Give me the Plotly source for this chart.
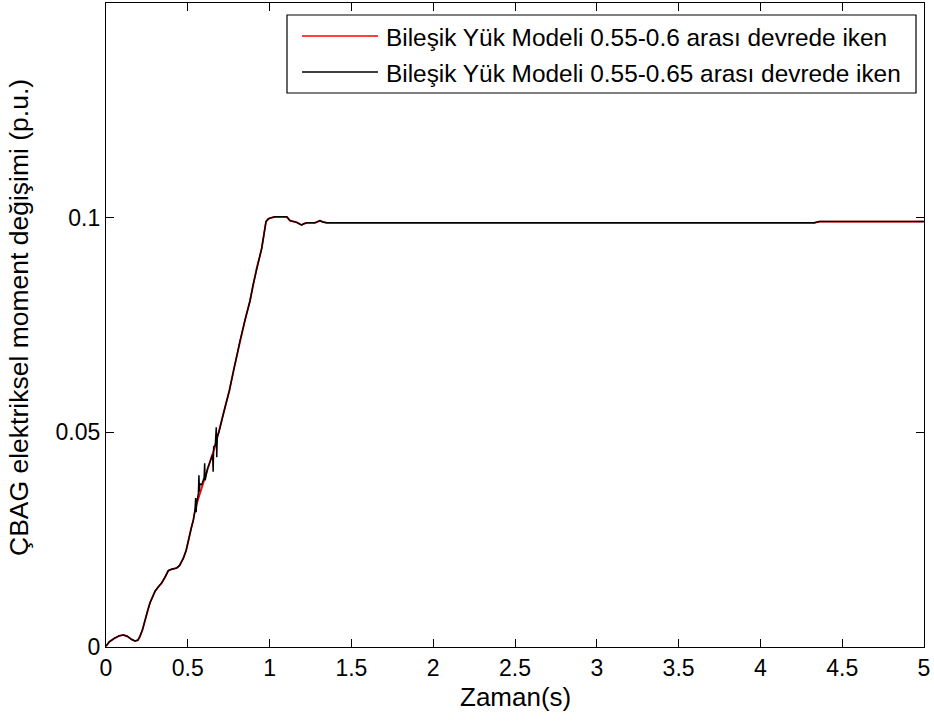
import plotly.graph_objects as go

# ---- data ----
t_red = [0, 0.02, 0.05, 0.08, 0.106, 0.13, 0.155, 0.177, 0.195, 0.208, 0.223, 0.238, 0.255, 0.269,
         0.285, 0.30, 0.32, 0.34, 0.36, 0.381, 0.40, 0.42, 0.432, 0.45, 0.473, 0.49, 0.503, 0.52,
         0.534, 0.544, 0.56, 0.58, 0.605, 0.625, 0.645, 0.666, 0.685, 0.707, 0.73, 0.754, 0.78,
         0.80, 0.819, 0.85, 0.88, 0.90, 0.921, 0.94, 0.952, 0.965, 0.978, 0.992, 1.002, 1.033,
         1.06, 1.105, 1.125, 1.145, 1.166, 1.185, 1.196, 1.21, 1.227, 1.277, 1.29, 1.308, 1.325,
         1.349, 2.0, 3.0, 4.0, 4.33, 4.36, 5.0]
v_red = [0.0002, 0.0012, 0.002, 0.0026, 0.0028, 0.0025, 0.0018, 0.0014, 0.0016, 0.0025, 0.004,
         0.0064, 0.0085, 0.0103, 0.0118, 0.013, 0.014, 0.0149, 0.0162, 0.0178, 0.0181, 0.0182,
         0.0184, 0.019, 0.0207, 0.0225, 0.025, 0.0275, 0.0296, 0.0318, 0.034, 0.0365, 0.0396,
         0.042, 0.0443, 0.0466, 0.0497, 0.0528, 0.0562, 0.0597, 0.0645, 0.068, 0.0713, 0.0762,
         0.0806, 0.0845, 0.0883, 0.091, 0.0929, 0.096, 0.0991, 0.0997, 0.0999, 0.1002, 0.1002,
         0.1002, 0.0993, 0.0991, 0.0989, 0.0985, 0.0983, 0.0986, 0.0988, 0.0988, 0.0990, 0.0993,
         0.0990, 0.0988, 0.0988, 0.0988, 0.0988, 0.0988, 0.0991, 0.0991]

t_black = [0, 0.02, 0.05, 0.08, 0.106, 0.13, 0.155, 0.177, 0.195, 0.208, 0.223, 0.238, 0.255, 0.269,
           0.285, 0.30, 0.32, 0.34, 0.36, 0.381, 0.40, 0.42, 0.432, 0.45, 0.473, 0.49, 0.503, 0.52,
           0.534, 0.544, 0.548, 0.551, 0.554, 0.565, 0.568, 0.571, 0.574, 0.585, 0.60, 0.603,
           0.606, 0.62, 0.64, 0.652, 0.655, 0.658, 0.668, 0.674, 0.677, 0.68, 0.69, 0.707, 0.73,
           0.754, 0.78, 0.80, 0.819, 0.85, 0.88, 0.90, 0.921, 0.94, 0.952, 0.965, 0.978, 0.992,
           1.002, 1.033, 1.06, 1.105, 1.125, 1.145, 1.166, 1.185, 1.196, 1.21, 1.227, 1.277, 1.29,
           1.308, 1.325, 1.349, 2.0, 3.0, 4.0, 4.33, 4.36, 5.0]
v_black = [0.0002, 0.0012, 0.002, 0.0026, 0.0028, 0.0025, 0.0018, 0.0014, 0.0016, 0.0025, 0.004,
           0.0064, 0.0085, 0.0103, 0.0118, 0.013, 0.014, 0.0149, 0.0162, 0.0178, 0.0181, 0.0182,
           0.0184, 0.019, 0.0207, 0.0225, 0.025, 0.0275, 0.0296, 0.0318, 0.0347, 0.0314, 0.0335,
           0.0358, 0.040, 0.0362, 0.038, 0.0378, 0.0395, 0.0428, 0.0388, 0.0415, 0.0438, 0.0448,
           0.0408, 0.0466, 0.047, 0.0512, 0.0442, 0.049, 0.050, 0.0528, 0.0562, 0.0597, 0.0645,
           0.068, 0.0713, 0.0762, 0.0806, 0.0845, 0.0883, 0.091, 0.0929, 0.096, 0.0991, 0.0997,
           0.0999, 0.1002, 0.1002, 0.1002, 0.0993, 0.0991, 0.0989, 0.0985, 0.0983, 0.0986, 0.0988,
           0.0988, 0.0990, 0.0993, 0.0990, 0.0988, 0.0988, 0.0988, 0.0988, 0.0988, 0.0991, 0.0991]

x_ticks = [0, 0.5, 1, 1.5, 2, 2.5, 3, 3.5, 4, 4.5, 5]
x_ticklabels = ["0", "0.5", "1", "1.5", "2", "2.5", "3", "3.5", "4", "4.5", "5"]
y_ticks = [0, 0.05, 0.1]
y_ticklabels = ["0", "0.05", "0.1"]

x_title = "Zaman(s)"
y_title = "ÇBAG elektriksel moment değişimi (p.u.)"
legend_names = ["Bileşik Yük Modeli 0.55-0.6 arası devrede iken",
                "Bileşik Yük Modeli 0.55-0.65 arası devrede iken"]
legend_colors = ["#ff0000", "#000000"]

FONT = "Liberation Sans, Arial, sans-serif"

fig = go.Figure()
fig.add_trace(go.Scatter(x=t_red, y=v_red, mode="lines", name=legend_names[0],
                         line=dict(color=legend_colors[0], width=1.8), showlegend=False))
fig.add_trace(go.Scatter(x=t_black, y=v_black, mode="lines", name=legend_names[1],
                         line=dict(color=legend_colors[1], width=1.5), showlegend=False))

W, H = 934, 722
L, R, T, B = 106, 10, 3, 75
pw, ph = W - L - R, H - T - B

def px(x):  # pixel -> paper x
    return (x - L) / pw

def py(y):  # pixel -> paper y
    return 1 - (y - T) / ph

shapes = [dict(type="rect", xref="paper", yref="paper",
               x0=px(287), x1=px(916), y0=py(93), y1=py(15),
               line=dict(color="black", width=1.2), fillcolor="white", layer="above")]
annotations = []
rows = [36, 72]
for i in range(2):
    shapes.append(dict(type="line", xref="paper", yref="paper",
                       x0=px(302), x1=px(378), y0=py(rows[i]), y1=py(rows[i]),
                       line=dict(color=legend_colors[i], width=1.5), layer="above"))
    annotations.append(dict(xref="paper", yref="paper", x=px(384), y=py(rows[i] + 1),
                            text=legend_names[i], showarrow=False, xanchor="left",
                            yanchor="middle", font=dict(family=FONT, size=24.4, color="black")))

annotations.append(dict(xref="paper", yref="paper", x=px(515), y=py(697), text=x_title,
                        showarrow=False, xanchor="center", yanchor="middle",
                        font=dict(family=FONT, size=26, color="black")))
annotations.append(dict(xref="paper", yref="paper", x=px(19), y=py(318), text=y_title,
                        showarrow=False, xanchor="center", yanchor="middle", textangle=-90,
                        font=dict(family=FONT, size=26.5, color="black")))

fig.update_layout(
    width=W, height=H,
    margin=dict(l=L, r=R, t=T, b=B, pad=0, autoexpand=False),
    plot_bgcolor="white", paper_bgcolor="white",
    font=dict(family=FONT, size=23, color="black"),
    shapes=shapes, annotations=annotations,
    xaxis=dict(range=[0, 5], tickvals=x_ticks, ticktext=x_ticklabels,
               ticks="inside", ticklen=8, tickcolor="black", tickwidth=1.2,
               showline=True, linecolor="black", linewidth=1.2, mirror="allticks",
               showgrid=False, zeroline=False, automargin=False,
               tickfont=dict(size=23)),
    yaxis=dict(range=[0, 0.15], tickvals=y_ticks, ticktext=y_ticklabels,
               ticks="inside", ticklen=8, tickcolor="black", tickwidth=1.2,
               showline=True, linecolor="black", linewidth=1.2, mirror="allticks",
               showgrid=False, zeroline=False, automargin=False,
               tickfont=dict(size=23)),
)

fig.write_html("out.html", config={"displayModeBar": False},
               post_script="document.body.style.margin='0';")
